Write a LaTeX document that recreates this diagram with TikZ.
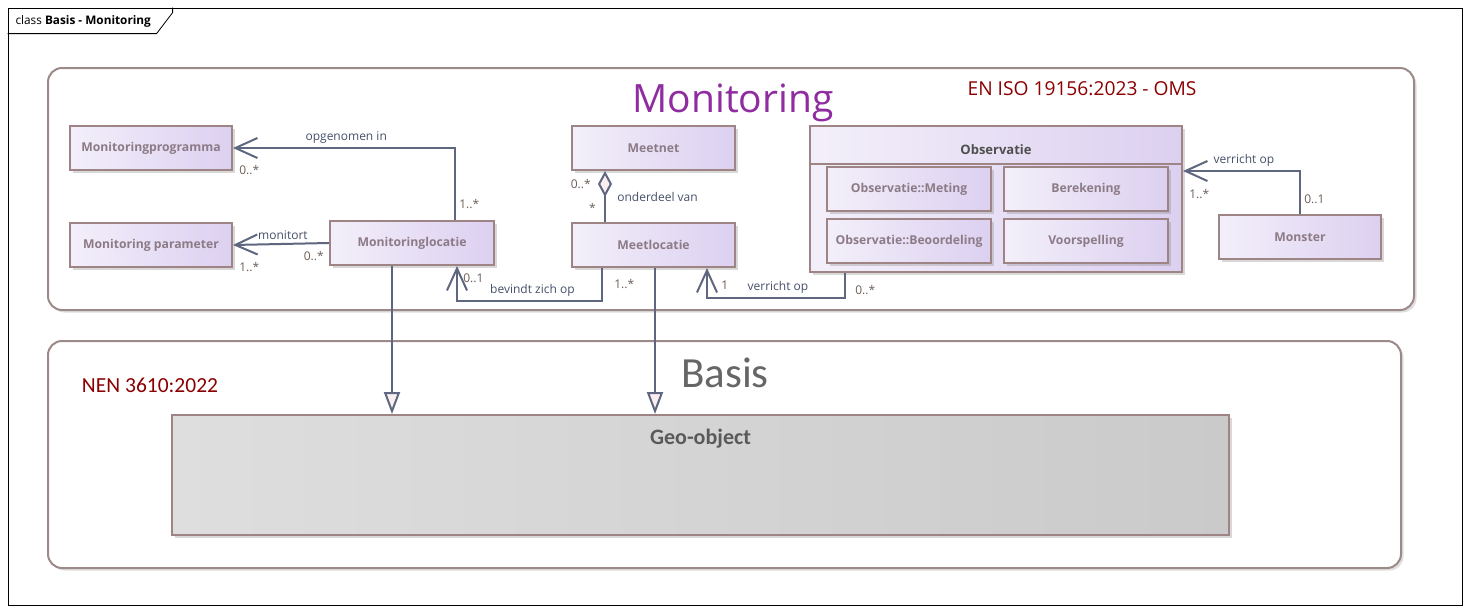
\documentclass[tikz,border=0pt]{standalone}
\usepackage{fontspec}
\setmainfont{Open Sans}
\newfontfamily\calibri{Carlito}
\usetikzlibrary{arrows.meta,positioning,calc,shadows}
\definecolor{pkgBorder}{HTML}{9C8A88}
\definecolor{boxBorder}{HTML}{9E8484}
\definecolor{boxL}{HTML}{F3EFFA}
\definecolor{boxR}{HTML}{DCD0F0}
\definecolor{clsText}{HTML}{8C7B86}
\definecolor{arrowCol}{HTML}{5E677F}
\definecolor{lblCol}{HTML}{46506A}
\definecolor{multCol}{HTML}{6E5E55}
\definecolor{monPurple}{HTML}{8E2CA0}
\definecolor{stdRed}{HTML}{8B0000}
\definecolor{basisGray}{HTML}{666666}
\definecolor{geoL}{HTML}{DEDEDE}
\definecolor{geoR}{HTML}{CACACA}
\definecolor{geoText}{HTML}{5A5A5A}
\definecolor{obsText}{HTML}{4F4F4F}
\definecolor{triFill}{HTML}{FBEEEE}

\begin{document}
\begin{tikzpicture}[x=1pt,y=-1pt,
  cls/.style={draw=boxBorder,line width=2pt,left color=boxL,right color=boxR,
    minimum width=162pt,minimum height=44pt,text=clsText,
    font=\fontsize{12.2}{14}\selectfont\bfseries,
    drop shadow={shadow xshift=2.5pt,shadow yshift=-2.5pt,opacity=.3}},
  pkg/.style={draw=pkgBorder,line width=2pt,rounded corners=14pt,fill=white,
    drop shadow={shadow xshift=2.5pt,shadow yshift=-2.5pt,opacity=.25}},
  assoc/.style={draw=arrowCol,line width=2pt,-{Straight Barb[length=22pt,width=20pt]}},
  gen/.style={draw=arrowCol,line width=2pt,-{Triangle[length=22pt,width=16pt,fill=triFill]}},
  aggr/.style={draw=arrowCol,line width=2pt,-{Diamond[length=26pt,width=14pt,fill=triFill]}},
  lbl/.style={font=\fontsize{12}{14}\selectfont,text=lblCol},
  mult/.style={font=\fontsize{12}{14}\selectfont,text=multCol}]
  \useasboundingbox[fill=white] (0,0) rectangle (1470,613);
  \node[draw,line width=.8pt,minimum width=1454pt,minimum height=597pt] (frame) at (735,306.5) {};
  \draw[line width=.8pt] (frame.north west) ++(0,26) -- ++(149,0) -- ++(16,-21) -- ++(0,-5);
  \node[anchor=west,font=\fontsize{11.8}{14}\selectfont] (tab) at (12,21) {class \textbf{Basis - Monitoring}};

  \node[pkg,minimum width=1366pt,minimum height=242pt] (monpkg) at (731,189) {};
  \node[pkg,minimum width=1353pt,minimum height=227pt] (baspkg) at (724.5,454.5) {};
  \node[font=\fontsize{39}{44}\selectfont,text=monPurple] (montitle) at (733,103) {Monitoring};
  \node[font=\fontsize{19.2}{22}\selectfont,text=stdRed] (oms) at (1082,89) {EN ISO 19156:2023 - OMS};
  \node[font=\calibri\fontsize{43}{48}\selectfont,text=basisGray] (bastitle) at (725,373) {Basis};
  \node[font=\calibri\fontsize{21.5}{24}\selectfont,text=stdRed] (nen) at (150,385) {NEN 3610:2022};

  \node[cls] (prog) at (151,148) {Monitoringprogramma};
  \node[cls,below=51pt of prog] (par) {Monitoring parameter};
  \node[cls,minimum width=164pt] (loc) at (412,243) {Monitoringlocatie};
  \node[cls,minimum width=163pt] (net) at (653.5,148) {Meetnet};
  \node[cls,minimum width=163pt,below=51pt of net] (mloc) {Meetlocatie};
  \node[cls,minimum width=372pt,minimum height=146pt] (obs) at (996,199) {};
  \draw[draw=boxBorder,line width=2pt] (obs.west |- 0,164) -- (obs.east |- 0,164);
  \node[font=\fontsize{13}{15}\selectfont\bfseries,text=obsText] (obshead) at (996,150) {Observatie};
  \node[cls,minimum width=164pt] (meting) at (909,189) {Observatie::Meting};
  \node[cls,minimum width=164pt,right=11pt of meting] (berek) {Berekening};
  \node[cls,minimum width=164pt,below=6pt of meting] (beoord) {Observatie::Beoordeling};
  \node[cls,minimum width=164pt,below=6pt of berek] (voorsp) {Voorspelling};
  \node[cls] (monster) at (1300,237) {Monster};
  \node[draw=boxBorder,line width=2pt,left color=geoL,right color=geoR,
    minimum width=1057pt,minimum height=120pt,
    drop shadow={shadow xshift=2.5pt,shadow yshift=-2.5pt,opacity=.3}] (geo) at (700.5,475) {};
  \node[font=\calibri\fontsize{22}{25}\selectfont\bfseries,text=geoText,below=12pt of geo.north] (geotitle) {Geo-object};

  \draw[assoc] ([xshift=43pt]loc.north) |- node[mult,pos=.108,right]{1..*}
    node[lbl,pos=.745,above]{opgenomen in}
    node[mult,at end,below right=13pt and 2pt]{0..*} (prog.east);
  \draw[assoc] (loc.west) -- node[lbl,pos=.48,above]{monitort}
    node[mult,at start,below left=4pt and 1pt]{0..*}
    node[mult,at end,below right=13pt and 2pt]{1..*} (par.east);
  \draw[aggr] ([xshift=-48.5pt]mloc.north) -- node[mult,pos=.75,left=10pt]{0..*}
    node[mult,pos=.27,left=5pt]{*}
    node[lbl,pos=.5,right=8pt]{onderdeel van} ([xshift=-48.5pt]net.south);
  \draw[assoc] ([xshift=-51.5pt]mloc.south) -- node[mult,pos=.5,right=8pt]{1..*} ++(0,33)
    -| node[lbl,pos=.24,above]{bevindt zich op}
    node[mult,pos=.82,right=2pt]{0..1} ([xshift=45pt]loc.south);
  \draw[assoc] ([xshift=-151pt]obs.south) -- node[mult,pos=.7,right=6pt]{0..*} ++(0,25)
    -| node[lbl,pos=.243,above]{verricht op}
    node[mult,pos=.72,right=10pt]{1} ([xshift=53.5pt]mloc.south);
  \draw[assoc] (monster.north) |- node[mult,pos=.17,right]{0..1}
    node[lbl,pos=.74,above]{verricht op}
    node[mult,at end,below right=14pt and 2pt]{1..*} ([yshift=28pt]obs.east);
  \draw[gen] ([xshift=-20pt]loc.south) -- ([xshift=-20pt]loc.south |- geo.north);
  \draw[gen] ([xshift=1.5pt]mloc.south) -- ([xshift=1.5pt]mloc.south |- geo.north);
\end{tikzpicture}
\end{document}
